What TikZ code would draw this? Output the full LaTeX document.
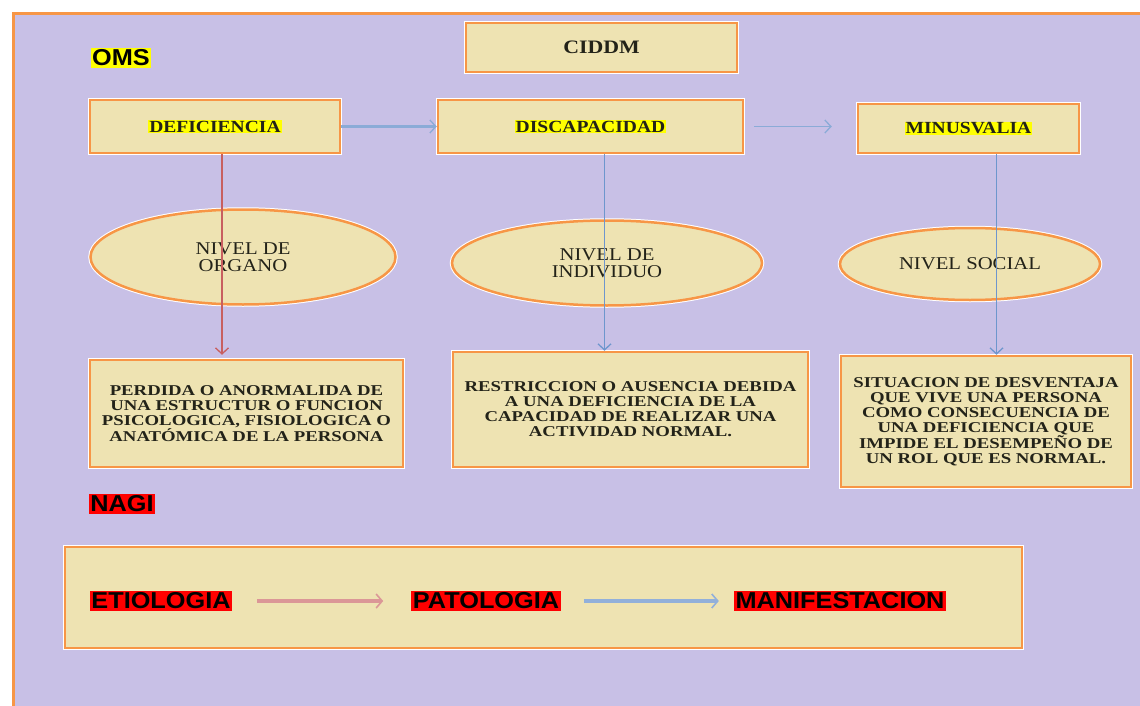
\documentclass[tikz,border=0pt]{standalone}
\usepackage{fontspec}
\usepackage{xcolor}
\usepackage{tikz}
\usetikzlibrary{shapes.geometric, arrows.meta, positioning}

\setmainfont{Liberation Serif}
\newfontfamily\titlefont[FakeStretch=1.15]{Liberation Serif}
\newfontfamily\bodyfont[FakeStretch=1.25]{Liberation Serif}
\newfontfamily\levelfont[FakeStretch=1.15]{Liberation Serif}
\newfontfamily\labelfont[FakeStretch=1.1]{Liberation Sans}

\definecolor{bgpurple}{RGB}{200,192,230}
\definecolor{boxfill}{RGB}{238,227,178}
\definecolor{boxorange}{RGB}{247,150,70}
\definecolor{hlyellow}{RGB}{255,255,0}
\definecolor{hlred}{RGB}{255,0,0}
\definecolor{flowblue}{RGB}{110,150,205}
\definecolor{flowred}{RGB}{200,95,95}
\definecolor{inkdark}{RGB}{35,35,25}

\newcommand{\hl}[1]{{\setlength{\fboxsep}{1pt}\colorbox{hlyellow}{#1}}}

\begin{document}
\begin{tikzpicture}[x=1pt, y=-1pt]
    % --- Canvas ---
    \useasboundingbox (0,0) rectangle (1140,706);
    \clip (0,0) rectangle (1140,706);
    \fill[white] (0,0) rectangle (1140,706);
    \draw[boxorange, line width=3pt, fill=bgpurple] (13,14) rectangle (1170,740);

    % --- Styles ---
    \tikzstyle{orange_frame}=[
        draw=boxorange,
        line width=2.5pt,
        fill=boxfill,
        preaction={draw=white, line width=4.5pt}
    ]
    \tikzstyle{title_box}=[
        orange_frame,
        rectangle,
        inner sep=0pt,
        text=inkdark,
        font=\titlefont\bfseries\fontsize{17}{17}\selectfont
    ]
    \tikzstyle{text_box}=[
        orange_frame,
        rectangle,
        inner sep=0pt,
        align=center,
        text=inkdark,
        font=\bodyfont\bfseries\fontsize{15}{15}\selectfont
    ]
    \tikzstyle{level_ellipse}=[
        orange_frame,
        ellipse,
        inner sep=0pt,
        align=center,
        text=inkdark,
        font=\levelfont\fontsize{18}{17}\selectfont
    ]
    \tikzstyle{tag_label}=[
        inner sep=1.5pt,
        text=black,
        font=\labelfont\bfseries\fontsize{23}{23}\selectfont
    ]
    \tikzstyle{link_arrow}=[
        -{Straight Barb[length=6pt, width=13pt, line width=1.3pt]},
        line width=1.3pt
    ]
    \tikzstyle{chain_arrow}=[
        -{Straight Barb[length=6pt, width=14pt, line width=1.6pt]},
        line width=3.5pt
    ]

    % --- 1. OMS / CIDDM ---
    \node[tag_label, fill=hlyellow] (oms) at (121,58) {OMS};
    \node[title_box, minimum width=271pt, minimum height=49pt,
          font=\titlefont\bfseries\fontsize{19}{19}\selectfont] (ciddm) at (601.5,47.5) {CIDDM};

    \node[title_box, minimum width=250pt, minimum height=53pt] (defi) at (215,126.5) {\hl{DEFICIENCIA}};
    \node[title_box, minimum width=305pt, minimum height=53pt] (disc) at (590.5,126.5) {\hl{DISCAPACIDAD}};
    \node[title_box, minimum width=221pt, minimum height=49pt] (minus) at (968.5,128.5) {\hl{MINUSVALIA}};

    % --- 2. Levels ---
    \node[level_ellipse, minimum width=305pt, minimum height=95pt] (organ) at (243,257) {NIVEL DE\\ORGANO};
    \node[level_ellipse, minimum width=310pt, minimum height=85pt] (indiv) at (607,263) {NIVEL DE\\INDIVIDUO};
    \node[level_ellipse, minimum width=260pt, minimum height=72pt] (social) at (970,264) {NIVEL SOCIAL};

    % --- 3. Definitions ---
    \node[text_box, minimum width=313pt, minimum height=107pt] (def1) at (246.5,413.5) {
        PERDIDA O ANORMALIDA DE\\
        UNA ESTRUCTUR O FUNCION\\
        PSICOLOGICA, FISIOLOGICA O\\
        ANATÓMICA DE LA PERSONA
    };
    \node[text_box, minimum width=355pt, minimum height=115pt] (def2) at (630.5,409.5) {
        RESTRICCION O AUSENCIA DEBIDA\\
        A UNA DEFICIENCIA DE LA\\
        CAPACIDAD DE REALIZAR UNA\\
        ACTIVIDAD NORMAL.
    };
    \node[text_box, minimum width=290pt, minimum height=131pt] (def3) at (986,421.5) {
        SITUACION DE DESVENTAJA\\
        QUE VIVE UNA PERSONA\\
        COMO CONSECUENCIA DE\\
        UNA DEFICIENCIA QUE\\
        IMPIDE EL DESEMPEÑO DE\\
        UN ROL QUE ES NORMAL.
    };

    % --- 4. Flow between the three planes ---
    \draw[link_arrow, flowblue!80!white, line width=2.5pt] (defi.east) -- (disc.west);
    \draw[link_arrow, flowblue!80!white, shorten <=10pt, shorten >=25pt] (disc.east) -- (disc.east -| minus.west);

    \draw[link_arrow, flowred, shorten >=4pt] ([xshift=7pt]defi.south) -- ([xshift=7pt]defi.south |- def1.north);
    \draw[link_arrow, flowblue] ([xshift=14pt]disc.south) -- ([xshift=14pt]disc.south |- def2.north);
    \draw[link_arrow, flowblue] ([xshift=28pt]minus.south) -- ([xshift=28pt]minus.south |- def3.north);

    % --- 5. NAGI ---
    \node[tag_label, fill=hlred] (nagi) at (122,504) {NAGI};
    \node[orange_frame, rectangle, minimum width=957pt, minimum height=101pt] (chain) at (543.5,597.5) {};

    \node[tag_label, fill=hlred] (etio) at (161,601) {ETIOLOGIA};
    \node[tag_label, fill=hlred] (pato) at (486,601) {PATOLOGIA};
    \node[tag_label, fill=hlred] (mani) at (840,601) {MANIFESTACION};

    \draw[chain_arrow, flowred!65!white, shorten <=25pt, shorten >=28pt] (etio) -- (pato);
    \draw[chain_arrow, flowblue!75!white, shorten <=23pt, shorten >=15pt] (pato) -- (mani);

\end{tikzpicture}
\end{document}
